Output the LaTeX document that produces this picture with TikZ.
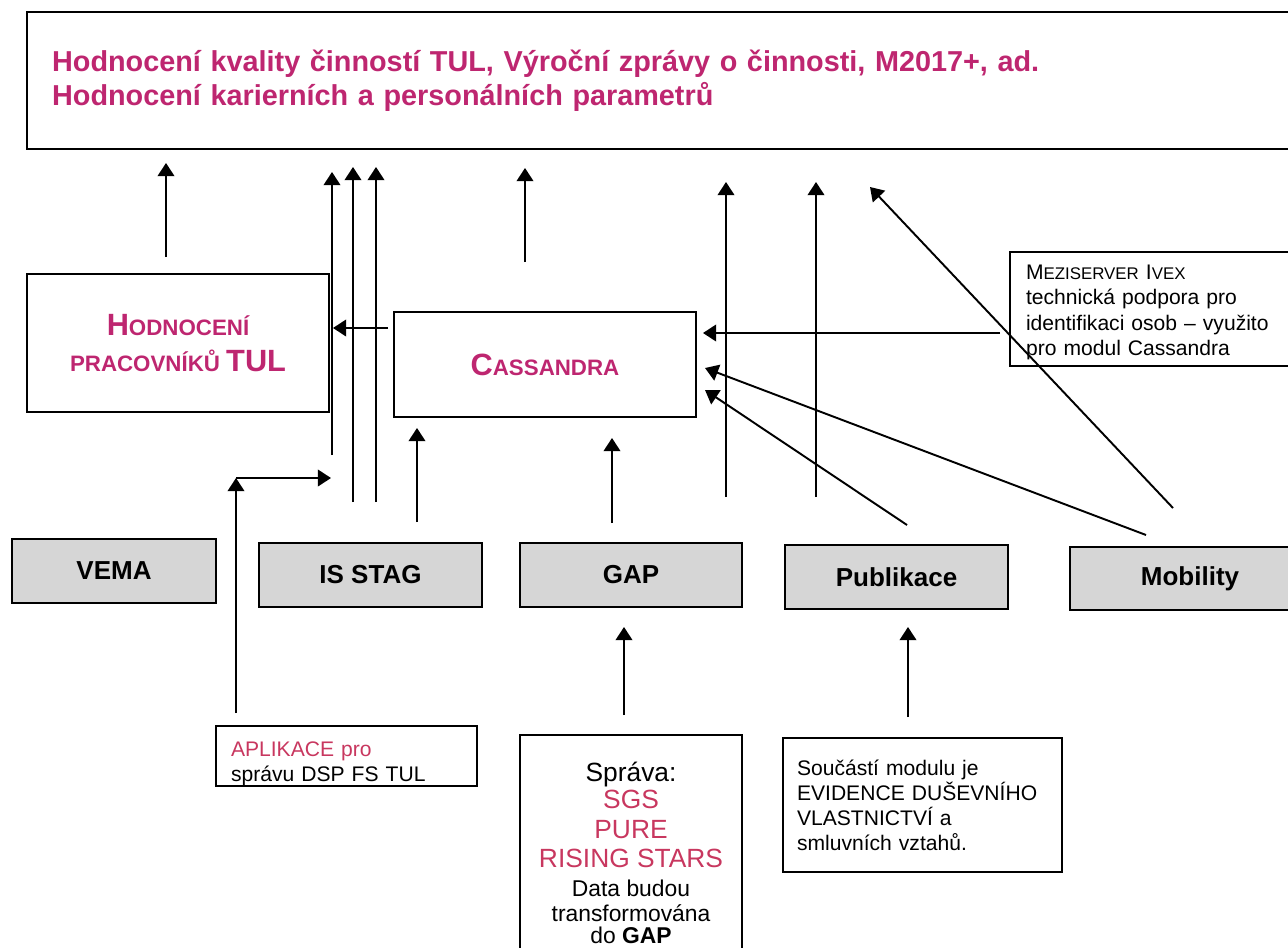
\documentclass[tikz,border=0pt]{standalone}
\usepackage{fontspec}
\setmainfont{Liberation Sans}
\usetikzlibrary{arrows.meta}

\definecolor{titlemag}{RGB}{190,38,112}
\definecolor{apppink}{RGB}{200,55,95}
\definecolor{boxgray}{RGB}{214,214,214}

% fake small caps
\newcommand{\bigc}[1]{{\fontsize{17.5}{20}\selectfont #1}}
\newcommand{\smallc}[1]{{\fontsize{12.7}{20}\selectfont #1}}
\newcommand{\minic}[1]{{\fontsize{9.6}{14.4}\selectfont #1}}

\tikzset{
  arr/.style={-{Triangle[length=7.5pt,width=9.5pt]}, line width=1.1pt},
  plainbox/.style={draw=black, line width=0.9pt, inner sep=0pt},
  srcbox/.style={plainbox, fill=boxgray, minimum height=1.28cm, font=\fontsize{14.8}{17}\selectfont\bfseries},
  notebox/.style={plainbox, align=left, font=\fontsize{12}{14.2}\selectfont},
}

\begin{document}
\begin{tikzpicture}[x=0.02cm,y=-0.02cm]
	\useasboundingbox (0,0) rectangle (1288,947);

	\node[plainbox,minimum height=2.74cm,text width=24.66cm,inner xsep=0.5cm,align=left,text=titlemag,font=\fontsize{16.4}{19.35}\selectfont\bfseries] (eval) at (668.5,80.5) {Hodnocení kvality činností TUL, Výroční zprávy o činnosti, M2017+, ad.\\Hodnocení karierních a personálních parametrů};

	\node[plainbox,minimum width=6.04cm,minimum height=2.76cm,align=center,text=titlemag,font=\fontsize{12.7}{20}\selectfont\bfseries] (hod) at (178,343) {\bigc{H}\smallc{ODNOCENÍ}\\\smallc{PRACOVNÍKŮ} \bigc{TUL}};
	\node[plainbox,minimum width=6.04cm,minimum height=2.1cm,text=titlemag,font=\bfseries] (cas) at (545,364.5) {\bigc{C}\smallc{ASSANDRA}};
	\node[notebox,minimum height=2.28cm,text width=5.36cm,inner xsep=0.32cm,font=\fontsize{12}{14.4}\selectfont] (mez) at (1160,309) {\rule{0pt}{12pt}M\minic{EZISERVER} I\minic{VEX}\\technická podpora pro\\identifikaci osob – využito\\pro modul Cassandra};

	\node[srcbox,minimum width=4.08cm] (vema) at (114,571)   {VEMA};
	\node[srcbox,minimum width=4.46cm] (stag) at (370.5,575) {IS STAG};
	\node[srcbox,minimum width=4.44cm] (gap)  at (631,575)   {GAP};
	\node[srcbox,minimum width=4.46cm] (pub)  at (896.5,577) {Publikace};
	\node[srcbox,minimum width=4.8cm,minimum height=1.26cm] (mob) at (1190,578.5) {Mobility};

	\node[notebox,minimum height=1.16cm,text width=4.62cm,inner xsep=0.3cm] (apl) at (346.5,756) {\rule{0pt}{17.5pt}\textcolor{apppink}{APLIKACE pro}\\správu DSP FS TUL};
	\node[plainbox,minimum width=4.44cm,minimum height=4.7cm,align=center,font=\fontsize{15}{17}\selectfont] (spr) at (631,852.5) {Správa:\\[-1.6pt]\textcolor{apppink}{SGS}\\\textcolor{apppink}{PURE}\\\textcolor{apppink}{RISING STARS}\\[-1pt]{\fontsize{13}{17}\selectfont Data budou}\\[-2.8pt]{\fontsize{13}{17}\selectfont transformována}\\[-4.5pt]{\fontsize{13}{17}\selectfont do \textbf{GAP}}};
	\node[notebox,minimum height=2.68cm,text width=5.02cm,inner xsep=0.28cm] (sou) at (922.5,805) {Součástí modulu je\\EVIDENCE DUŠEVNÍHO\\VLASTNICTVÍ a\\smluvních vztahů.};

	% arrow ends
	\coordinate (hodA) at (166,257);  \coordinate (hodB) at (166,163);
	\coordinate (st1A) at (332,455);  \coordinate (st1B) at (332,172);
	\coordinate (st2A) at (353,502);  \coordinate (st2B) at (353,167);
	\coordinate (st3A) at (376,502);  \coordinate (st3B) at (376,167);
	\coordinate (casA) at (525,262);  \coordinate (casB) at (525,168);
	\coordinate (chA)  at (388,328);  \coordinate (chB)  at (333,328);
	\coordinate (scA)  at (417,522);  \coordinate (scB)  at (417,428);
	\coordinate (gcA)  at (612,523);  \coordinate (gcB)  at (612,438);
	\coordinate (p1A)  at (726,497);  \coordinate (p1B)  at (726,182);
	\coordinate (p2A)  at (816,497);  \coordinate (p2B)  at (816,182);
	\coordinate (mtA)  at (1173,508); \coordinate (mtB)  at (870,187);
	\coordinate (mzA)  at (1000,333); \coordinate (mzB)  at (703,333);
	\coordinate (mcA)  at (1146,535); \coordinate (mcB)  at (705,368);
	\coordinate (pcA)  at (907,525);  \coordinate (pcB)  at (705,390);
	\coordinate (elA)  at (236,713);  \coordinate (elB)  at (236,478);  \coordinate (elC) at (331,478);
	\coordinate (sgA)  at (624,715);  \coordinate (sgB)  at (624,627);
	\coordinate (spA)  at (908,717);  \coordinate (spB)  at (908,627);

	\path[arr] (hodA) edge (hodB);
	\path[arr] (st1A) edge (st1B);
	\path[arr] (st2A) edge (st2B);
	\path[arr] (st3A) edge (st3B);
	\path[arr] (casA) edge (casB);
	\path[arr] (chA)  edge (chB);
	\path[arr] (scA)  edge (scB);
	\path[arr] (gcA)  edge (gcB);
	\path[arr] (p1A)  edge (p1B);
	\path[arr] (p2A)  edge (p2B);
	\path[arr] (mtA)  edge (mtB);
	\path[arr] (mzA)  edge (mzB);
	\path[arr] (mcA)  edge (mcB);
	\path[arr] (pcA)  edge (pcB);
	\path[arr] (elA)  edge (elB);
	\path[arr] (elB)  edge (elC);
	\path[arr] (sgA)  edge (sgB);
	\path[arr] (spA)  edge (spB);
\end{tikzpicture}
\end{document}
